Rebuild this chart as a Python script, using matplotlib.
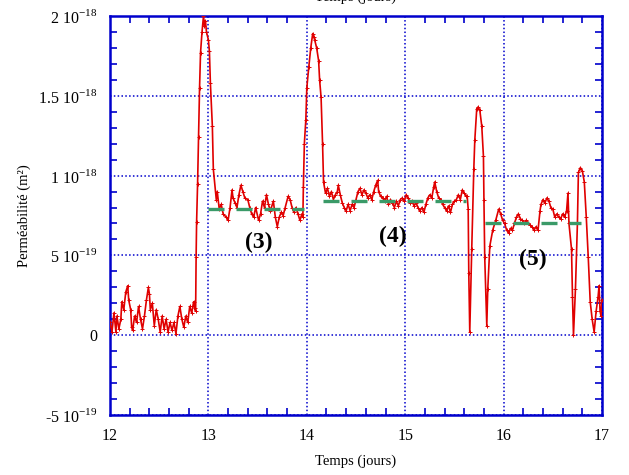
import matplotlib
matplotlib.use("Agg")
import matplotlib.pyplot as plt
from matplotlib.ticker import FixedLocator, MultipleLocator

plt.rcParams['font.family'] = ['Liberation Serif', 'DejaVu Serif']
plt.rcParams['mathtext.fontset'] = 'custom'
plt.rcParams['mathtext.rm'] = 'Liberation Serif'

# temps (jours) et permeabilite (en 1e-18 m2)
temps = [
    12.00, 12.02, 12.04, 12.06, 12.07, 12.09, 12.11, 12.12, 12.14, 12.16,
    12.18, 12.19, 12.21, 12.22, 12.23, 12.25, 12.27, 12.29, 12.31, 12.33,
    12.35, 12.37, 12.39, 12.40, 12.41, 12.43, 12.45, 12.47, 12.49, 12.51,
    12.53, 12.55, 12.57, 12.59, 12.61, 12.63, 12.65, 12.67, 12.69, 12.71,
    12.73, 12.75, 12.77, 12.79, 12.81, 12.83, 12.85, 12.86, 12.87,
    12.875, 12.88, 12.89, 12.90, 12.91, 12.92, 12.935, 12.95, 12.96, 12.97,
    12.98, 13.00, 13.01, 13.02, 13.04, 13.05, 13.08, 13.09, 13.11, 13.13,
    13.15, 13.18, 13.20, 13.22, 13.24, 13.25, 13.27, 13.29, 13.31, 13.33,
    13.35, 13.37, 13.40, 13.42, 13.44, 13.46, 13.48, 13.51, 13.53, 13.55,
    13.57, 13.59, 13.61, 13.63, 13.66, 13.68, 13.70, 13.72, 13.74, 13.76,
    13.78, 13.81, 13.83, 13.85, 13.87, 13.89, 13.91, 13.93, 13.95, 13.96,
    13.965, 13.975, 13.99, 14.00, 14.02, 14.04, 14.06, 14.07, 14.08, 14.10,
    14.12, 14.13, 14.145, 14.16, 14.17, 14.19, 14.21, 14.23, 14.25, 14.27,
    14.29, 14.31, 14.32, 14.34, 14.36, 14.38, 14.40, 14.42, 14.44, 14.46,
    14.48, 14.50, 14.52, 14.54, 14.56, 14.58, 14.60, 14.62, 14.64, 14.66,
    14.68, 14.70, 14.72, 14.73, 14.75, 14.77, 14.79, 14.81, 14.83, 14.85,
    14.87, 14.89, 14.91, 14.93, 14.95, 14.97, 14.99, 15.01, 15.03, 15.05,
    15.07, 15.09, 15.11, 15.13, 15.15, 15.17, 15.19, 15.21, 15.23, 15.25,
    15.27, 15.29, 15.30, 15.32, 15.34, 15.36, 15.38, 15.40, 15.42, 15.44,
    15.46, 15.48, 15.50, 15.52, 15.54, 15.56, 15.58, 15.60, 15.62,
    15.63, 15.64, 15.646, 15.656, 15.676, 15.697, 15.707, 15.727, 15.74, 15.758,
    15.778, 15.795, 15.80, 15.808, 15.829, 15.839, 15.86, 15.89, 15.92, 15.95,
    15.97, 15.99, 16.01, 16.03, 16.05, 16.07, 16.09, 16.11, 16.13, 16.15,
    16.17, 16.19, 16.21, 16.23, 16.25, 16.27, 16.29, 16.31, 16.33, 16.35,
    16.37, 16.38, 16.40, 16.42, 16.44, 16.46, 16.48, 16.50, 16.52, 16.54,
    16.56, 16.58, 16.60, 16.62, 16.64, 16.654, 16.664, 16.69, 16.70, 16.71,
    16.73, 16.75, 16.76, 16.78, 16.80, 16.82, 16.84, 16.86, 16.88, 16.90,
    16.92, 16.94, 16.96, 16.97, 16.98, 16.99, 17.00,
]
permeabilite = [
    0.08, 0.02, 0.14, 0.02, 0.12, 0.04, 0.10, 0.21, 0.16, 0.27,
    0.31, 0.22, 0.16, 0.05, 0.03, 0.12, 0.08, 0.18, 0.10, 0.04,
    0.12, 0.22, 0.30, 0.26, 0.16, 0.20, 0.06, 0.16, 0.10, 0.02,
    0.12, 0.04, 0.10, 0.02, 0.08, 0.03, 0.08, 0.01, 0.12, 0.18,
    0.10, 0.05, 0.12, 0.08, 0.18, 0.14, 0.21, 0.17, 0.15,
    0.49, 0.71, 0.95, 1.24, 1.55, 1.77, 1.90, 2.00, 1.94, 1.97,
    1.90, 1.85, 1.78, 1.58, 1.31, 1.04, 0.85, 0.90, 0.79, 0.82,
    0.76, 0.74, 0.72, 0.80, 0.91, 0.86, 0.83, 0.80, 0.88, 0.94,
    0.90, 0.86, 0.85, 0.80, 0.76, 0.74, 0.80, 0.72, 0.76, 0.84,
    0.80, 0.88, 0.82, 0.78, 0.84, 0.74, 0.68, 0.74, 0.77, 0.75,
    0.80, 0.87, 0.85, 0.80, 0.77, 0.80, 0.76, 0.72, 0.76, 0.74,
    0.93, 1.20, 1.35, 1.55, 1.68, 1.80, 1.89, 1.87, 1.85, 1.80,
    1.72, 1.60, 1.49, 1.20, 0.96, 0.89, 0.92, 0.87, 0.90, 0.85,
    0.88, 0.90, 0.94, 0.88, 0.83, 0.80, 0.78, 0.82, 0.78, 0.82,
    0.80, 0.85, 0.90, 0.92, 0.88, 0.91, 0.89, 0.86, 0.88, 0.85,
    0.90, 0.94, 0.97, 0.90, 0.87, 0.86, 0.84, 0.87, 0.82, 0.85,
    0.83, 0.80, 0.84, 0.81, 0.85, 0.86, 0.84, 0.88, 0.86, 0.83,
    0.84, 0.81, 0.83, 0.80, 0.78, 0.80, 0.77, 0.82, 0.86, 0.88,
    0.86, 0.93, 0.96, 0.90, 0.86, 0.85, 0.82, 0.80, 0.78, 0.81,
    0.77, 0.82, 0.84, 0.85, 0.88, 0.85, 0.91, 0.89, 0.87,
    0.87, 0.79, 0.39, 0.02, 0.54, 1.04, 1.22, 1.42, 1.43, 1.41,
    1.31, 1.12, 0.85, 0.49, 0.06, 0.29, 0.56, 0.66, 0.72, 0.79,
    0.76, 0.72, 0.70, 0.66, 0.64, 0.67, 0.66, 0.70, 0.74, 0.76,
    0.73, 0.72, 0.70, 0.72, 0.70, 0.69, 0.68, 0.66, 0.68, 0.66,
    0.78, 0.82, 0.85, 0.83, 0.86, 0.84, 0.80, 0.79, 0.74, 0.76,
    0.74, 0.73, 0.76, 0.74, 0.78, 0.89, 0.70, 0.54, 0.24, 0.00,
    0.29, 0.70, 1.02, 1.05, 1.03, 0.96, 0.74, 0.49, 0.21, 0.10,
    0.02, 0.15, 0.24, 0.31, 0.15, 0.12, 0.22,
]

# paliers moyens (3), (4), (5)
paliers_nom = ['(3)', '(4)', '(5)']
paliers_debut = [13.00, 14.16, 15.81]
paliers_fin = [13.97, 15.62, 16.79]
paliers_valeur = [0.79, 0.84, 0.705]
etiquettes_pos = [(13.51, 0.58), (14.87, 0.62), (16.30, 0.475)]

yticks = [-0.5e-18, 0, 0.5e-18, 1e-18, 1.5e-18, 2e-18]
ytick_labels = ['-5 10$^{-19}$', '0', '5 10$^{-19}$', '1 10$^{-18}$',
                '1.5 10$^{-18}$', '2 10$^{-18}$']

bleu = '#0000cc'

fig = plt.figure(figsize=(6.29, 4.75), dpi=100)
ax = fig.add_axes([0.1749, 0.1263, 0.7822, 0.84])

ax.plot(temps, [p * 1e-18 for p in permeabilite], color='#e00000', lw=1.2,
        marker='+', ms=3, mew=0.7, zorder=3)

for d, f, v in zip(paliers_debut, paliers_fin, paliers_valeur):
    ax.plot([d, f], [v * 1e-18, v * 1e-18], color='#3a9a68', lw=2.4,
            dashes=(4.8, 3.6), solid_capstyle='butt', zorder=4)

for nom, (x, y) in zip(paliers_nom, etiquettes_pos):
    ax.text(x, y * 1e-18, nom, fontsize=17, fontweight='bold',
            ha='center', va='center')

ax.set_xlim(12, 17)
ax.set_ylim(-0.5e-18, 2e-18)
ax.xaxis.set_major_locator(MultipleLocator(1))
ax.xaxis.set_minor_locator(MultipleLocator(0.2))
ax.yaxis.set_major_locator(FixedLocator(yticks))
ax.yaxis.set_minor_locator(MultipleLocator(0.1e-18))
ax.set_yticklabels(ytick_labels)
ax.yaxis.get_offset_text().set_visible(False)

ax.grid(True, which='major', color=bleu, ls=(0, (1, 1.5)), lw=1.1)
for s in ax.spines.values():
    s.set_color(bleu)
    s.set_linewidth(1.8)
ax.tick_params(which='both', direction='in', top=True, right=True,
               color=bleu, labelsize=11.5, pad=9)
ax.tick_params(which='major', length=0, width=1.2)
ax.tick_params(which='minor', length=5, width=1.2)

ax.set_xlabel('Temps (jours)', fontsize=10.5, labelpad=8)
ax.set_ylabel('Perméabilité (m²)', fontsize=10.5, labelpad=5)

# restes de la figure voisine, coupes par le cadre
fig.text(0.565, 1 + 3 / 475, 'Temps (jours)', fontsize=10.5,
         ha='center', va='center')
fig.text(0.148, -0.012, '$^{-18}$', fontsize=11, ha='center', va='top')

fig.savefig('out.png', dpi=100)
